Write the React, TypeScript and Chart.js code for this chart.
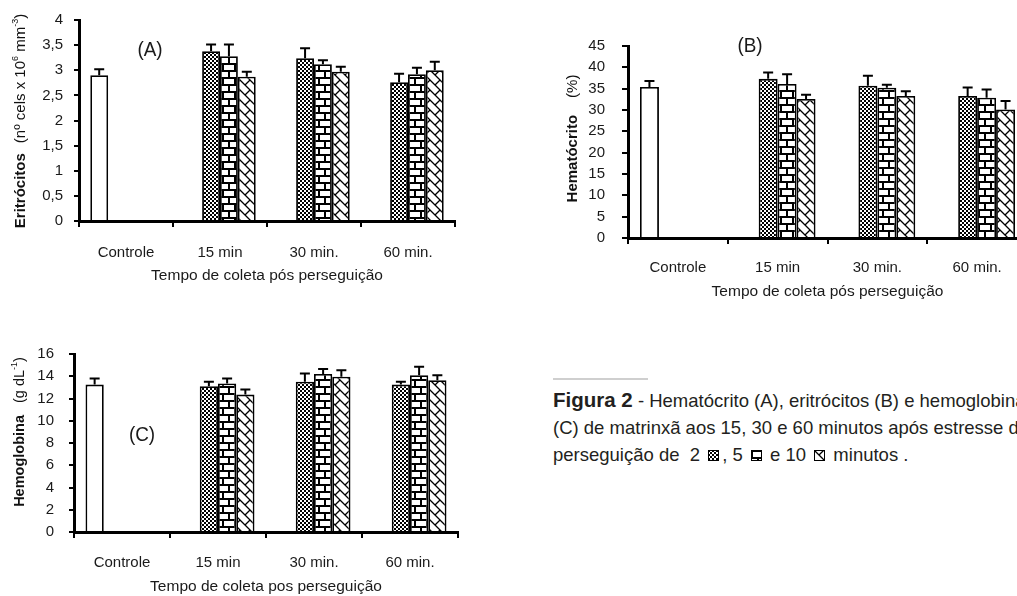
import React, { useEffect, useRef } from "react";
import { Chart, registerables } from "chart.js";
Chart.register(...registerables);

const FONT = "'Liberation Sans', Arial, Helvetica, sans-serif";

// ---------- data ----------
const categories = ["Controle", "15 min", "30 min.", "60 min."];

// (A) Eritrócitos
const eritControle = [2.9, null, null, null];
const eritControleErr = [0.12, null, null, null];
const erit2 = [null, 3.38, 3.24, 2.76];
const erit2Err = [null, 0.13, 0.2, 0.17];
const erit5 = [null, 3.28, 3.12, 2.92];
const erit5Err = [null, 0.23, 0.08, 0.13];
const erit10 = [null, 2.87, 2.97, 3.0];
const erit10Err = [null, 0.1, 0.1, 0.17];

// (B) Hematócrito
const hemControle = [35.4, null, null, null];
const hemControleErr = [1.4, null, null, null];
const hem2 = [null, 37.3, 35.7, 33.3];
const hem2Err = [null, 1.5, 2.3, 2.0];
const hem5 = [null, 36.1, 35.2, 32.9];
const hem5Err = [null, 2.3, 0.7, 1.9];
const hem10 = [null, 32.6, 33.3, 30.1];
const hem10Err = [null, 1.0, 1.1, 2.0];

// (C) Hemoglobina
const hbControle = [13.25, null, null, null];
const hbControleErr = [0.55, null, null, null];
const hb2 = [null, 13.1, 13.5, 13.25];
const hb2Err = [null, 0.4, 0.75, 0.25];
const hb5 = [null, 13.35, 14.2, 14.1];
const hb5Err = [null, 0.45, 0.45, 0.75];
const hb10 = [null, 12.35, 13.95, 13.65];
const hb10Err = [null, 0.45, 0.6, 0.45];

// ---------- patterns ----------
function makeTile(kind: string): HTMLCanvasElement {
  const c = document.createElement("canvas");
  const t = c.getContext("2d")!;
  if (kind === "checker") {
    c.width = 4; c.height = 4;
    t.fillStyle = "#fff"; t.fillRect(0, 0, 4, 4);
    t.fillStyle = "#000"; t.fillRect(0, 0, 2, 2); t.fillRect(2, 2, 2, 2);
  } else if (kind === "brick") {
    c.width = 12; c.height = 14;
    t.fillStyle = "#fff"; t.fillRect(0, 0, 12, 14);
    t.fillStyle = "#000";
    t.fillRect(0, 0, 12, 2); t.fillRect(0, 7, 12, 2);
    t.fillRect(0, 0, 2, 7); t.fillRect(6, 7, 2, 7);
  } else if (kind === "diag") {
    c.width = 10; c.height = 10;
    t.fillStyle = "#fff"; t.fillRect(0, 0, 10, 10);
    t.strokeStyle = "#000"; t.lineWidth = 1.3;
    t.beginPath();
    t.moveTo(-2, -2); t.lineTo(12, 12);
    t.moveTo(8, -2); t.lineTo(12, 2);
    t.moveTo(-2, 8); t.lineTo(2, 12);
    t.moveTo(5, 5); t.lineTo(10, 0);
    t.stroke();
  } else {
    c.width = 2; c.height = 2;
    t.fillStyle = "#fff"; t.fillRect(0, 0, 2, 2);
  }
  return c;
}

// ---------- plugins ----------
const errorBarPlugin = {
  id: "errorBars",
  afterDatasetsDraw(chart: any) {
    const { ctx } = chart;
    const ys = chart.scales.y;
    ctx.save();
    ctx.strokeStyle = "#000";
    ctx.lineWidth = 2;
    chart.data.datasets.forEach((ds: any, i: number) => {
      const errs = ds.errors;
      if (!errs) return;
      const meta = chart.getDatasetMeta(i);
      meta.data.forEach((el: any, j: number) => {
        const v = ds.data[j];
        const e = errs[j];
        if (v == null || e == null) return;
        const x = el.x;
        const yBar = ys.getPixelForValue(v);
        const yTop = ys.getPixelForValue(v + e);
        ctx.beginPath();
        ctx.moveTo(x, yBar);
        ctx.lineTo(x, yTop);
        ctx.moveTo(x - 5, yTop);
        ctx.lineTo(x + 5, yTop);
        ctx.stroke();
      });
    });
    ctx.restore();
  },
};

const yTitlePlugin = {
  id: "yTitle",
  afterDraw(chart: any, _args: any, opts: any) {
    const segs = opts.segments as any[];
    if (!segs) return;
    const { ctx } = chart;
    const size = opts.size || 15;
    const fontFor = (s: any) =>
      `${s.b ? "bold " : ""}${s.sup ? Math.round(size * 0.62) : size}px ${FONT}`;
    ctx.save();
    let total = 0;
    segs.forEach((s) => {
      ctx.font = fontFor(s);
      total += ctx.measureText(s.t).width + (s.gap || 0);
    });
    ctx.translate(opts.cx, opts.cy);
    ctx.rotate(-Math.PI / 2);
    ctx.fillStyle = "#111";
    ctx.textBaseline = "middle";
    ctx.textAlign = "left";
    let x = -total / 2;
    segs.forEach((s) => {
      ctx.font = fontFor(s);
      x += s.gap || 0;
      ctx.fillText(s.t, x, s.sup ? -size * 0.38 : 0);
      x += ctx.measureText(s.t).width;
    });
    ctx.restore();
  },
};

// ---------- chart specs ----------
const specA = {
  W: 520, H: 290, left: 79, top: 20, right: 455, bottom: 221,
  max: 4, step: 0.5, titlePadBottom: 5, yTickLen: 5, yTickPad: 11, xTickPad: 17,
  xTitle: "Tempo de coleta pós perseguição",
  series: [eritControle, erit2, erit5, erit10],
  errors: [eritControleErr, erit2Err, erit5Err, erit10Err],
  yTitle: {
    cx: 21, cy: 121, size: 15,
    segments: [
      { t: "Eritrócitos", b: true },
      { t: "(nº cels x 10", gap: 10 },
      { t: "6", sup: true },
      { t: " mm" },
      { t: "-3", sup: true },
      { t: ")" },
    ],
  },
};

const specB = {
  W: 500, H: 290, left: 88, top: 19, right: 487, bottom: 218,
  max: 45, step: 5, titlePadBottom: 9, yTickLen: 6, yTickPad: 17, xTickPad: 15,
  xTitle: "Tempo de coleta pós perseguição",
  series: [hemControle, hem2, hem5, hem10],
  errors: [hemControleErr, hem2Err, hem5Err, hem10Err],
  yTitle: {
    cx: 33, cy: 118.5, size: 15,
    segments: [{ t: "Hematócrito", b: true }, { t: "(%)", gap: 17 }],
  },
};

const specC = {
  W: 520, H: 266, left: 74, top: 15, right: 458, bottom: 202,
  max: 16, step: 2, titlePadBottom: 0, yTickLen: 5, yTickPad: 15, xTickPad: 16,
  xTitle: "Tempo de coleta pos perseguição",
  series: [hbControle, hb2, hb5, hb10],
  errors: [hbControleErr, hb2Err, hb5Err, hb10Err],
  yTitle: {
    cx: 20, cy: 102, size: 14.5,
    segments: [
      { t: "Hemoglobina", b: true },
      { t: "(g dL", gap: 12 },
      { t: "-1", sup: true },
      { t: ")" },
    ],
  },
};

const seriesNames = ["Controle", "2 min", "5 min", "10 min"];
const seriesPatterns = ["white", "checker", "brick", "diag"];

function buildConfig(spec: any, ctx: CanvasRenderingContext2D): any {
  const datasets = spec.series.map((d: any, i: number) => ({
    label: seriesNames[i],
    data: d,
    errors: spec.errors[i],
    backgroundColor: ctx.createPattern(makeTile(seriesPatterns[i]), "repeat"),
    borderColor: "#000",
    borderWidth: 1.8,
    categoryPercentage: 0.76,
    barPercentage: 1,
  }));
  const tickFont = { size: 15, family: FONT };
  const titleFont = { size: 15.5, family: FONT };
  return {
    type: "bar",
    data: { labels: categories, datasets },
    options: {
      responsive: false,
      animation: false,
      events: [],
      layout: { padding: { left: 0, top: spec.top, right: spec.W - spec.right, bottom: 0 } },
      plugins: {
        legend: { display: false },
        tooltip: { enabled: false },
        yTitle: spec.yTitle,
      },
      scales: {
        x: {
          offset: true,
          grid: {
            display: true, drawOnChartArea: false, drawTicks: true,
            tickLength: 6, color: "#000", lineWidth: 2, offset: true,
          },
          border: { display: true, color: "#000", width: 3 },
          ticks: { color: "#1a1a1a", font: tickFont, padding: spec.xTickPad, maxRotation: 0 },
          title: {
            display: true, text: spec.xTitle, color: "#1a1a1a", font: titleFont,
            padding: { top: 0, bottom: spec.titlePadBottom },
          },
          afterFit: (s: any) => { s.height = spec.H - spec.bottom; },
        },
        y: {
          min: 0, max: spec.max,
          grid: {
            display: true, drawOnChartArea: false, drawTicks: true,
            tickLength: spec.yTickLen, color: "#000", lineWidth: 2,
          },
          border: { display: true, color: "#000", width: 3 },
          ticks: {
            stepSize: spec.step, color: "#1a1a1a", font: tickFont, padding: spec.yTickPad,
            callback: (v: any) => String(v).replace(".", ","),
          },
          afterFit: (s: any) => { s.width = spec.left; },
        },
      },
    },
    plugins: [errorBarPlugin, yTitlePlugin],
  };
}

function BarChart({ spec, x, y }: { spec: any; x: number; y: number }) {
  const ref = useRef<HTMLCanvasElement>(null);
  useEffect(() => {
    const cv = ref.current!;
    const chart = new Chart(cv, buildConfig(spec, cv.getContext("2d")!));
    return () => chart.destroy();
  }, [spec]);
  return (
    <div style={{ position: "absolute", left: x, top: y, width: spec.W, height: spec.H }}>
      <canvas ref={ref} width={spec.W} height={spec.H} style={{ display: "block", width: spec.W, height: spec.H }} />
    </div>
  );
}

function Icon({ kind }: { kind: string }) {
  const ref = useRef<HTMLCanvasElement>(null);
  useEffect(() => {
    const c = ref.current!;
    const t = c.getContext("2d")!;
    t.clearRect(0, 0, 11, 11);
    t.fillStyle = t.createPattern(makeTile(kind), "repeat")!;
    t.fillRect(0, 0, 11, 11);
    t.strokeStyle = "#000";
    t.lineWidth = 1;
    t.strokeRect(0.5, 0.5, 10, 10);
  }, [kind]);
  return (
    <canvas
      ref={ref}
      width={11}
      height={11}
      style={{ width: 11, height: 11, verticalAlign: "baseline", margin: "0 3px 0 3px" }}
    />
  );
}

const panelLabel = (text: string, cx: number, cy: number) => (
  <div
    style={{
      position: "absolute", left: cx, top: cy, transform: "translate(-50%, -55%) scaleX(0.9)",
      fontSize: 21, lineHeight: 1, color: "#1a1a1a", fontFamily: FONT, whiteSpace: "nowrap",
    }}
  >
    {text}
  </div>
);

export default function App() {
  return (
    <div
      style={{
        position: "absolute", left: 0, top: 0, width: 1017, height: 596,
        overflow: "hidden", background: "#fff", fontFamily: FONT,
      }}
    >
      <BarChart spec={specA} x={0} y={0} />
      <BarChart spec={specB} x={540} y={20} />
      <BarChart spec={specC} x={0} y={330} />
      {panelLabel("(A)", 150, 50)}
      {panelLabel("(B)", 750, 46)}
      {panelLabel("(C)", 142, 435)}
      <div style={{ position: "absolute", left: 553, top: 378, width: 95, height: 2, background: "#cfcfcf" }} />
      <div
        style={{
          position: "absolute", left: 553, top: 386, fontSize: 18.5, lineHeight: "27px",
          whiteSpace: "nowrap", color: "#231f20",
        }}
      >
        <div><b style={{ fontSize: 20.5 }}>Figura 2</b> - Hematócrito (A), eritrócitos (B) e hemoglobina</div>
        <div>(C) de matrinxã aos 15, 30 e 60 minutos após estresse de</div>
        <div>
          perseguição de&nbsp; 2 <Icon kind="checker" />, 5 <Icon kind="brick" /> e 10 <Icon kind="diag" />&nbsp;minutos .
        </div>
      </div>
    </div>
  );
}
